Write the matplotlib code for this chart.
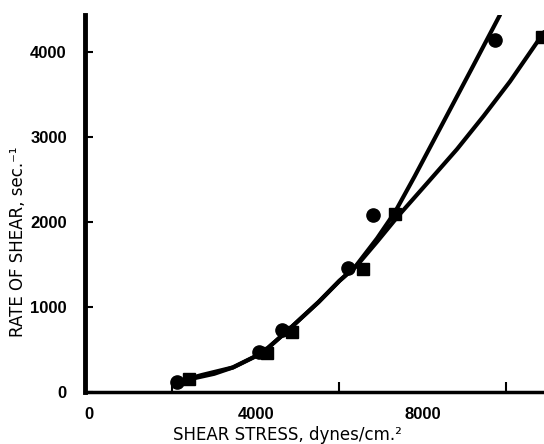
import matplotlib
matplotlib.use('Agg')
import matplotlib.pyplot as plt

# data points
circle_x = [2110, 4072, 4623, 6204, 6802, 9725]
circle_y = [120, 469, 727, 1465, 2087, 4150]
square_x = [2400, 4263, 4862, 6563, 7330, 10850]
square_y = [150, 457, 703, 1454, 2098, 4185]

# the two hand-drawn curves (points along each line)
curve_c_x = [2110, 2700, 3450, 4150, 4740, 5500, 6000, 6400, 6900, 7330, 7800, 8500, 9200, 9844]
curve_c_y = [120, 200, 290, 460, 715, 1060, 1310, 1490, 1810, 2120, 2540, 3190, 3840, 4443]
curve_s_x = [2400, 3000, 3450, 4150, 4740, 5500, 6000, 6400, 6900, 7400, 8100, 8814, 9450, 10084, 10900]
curve_s_y = [150, 215, 290, 460, 715, 1060, 1310, 1480, 1770, 2070, 2460, 2860, 3250, 3658, 4240]

xticks = [0, 4000, 8000]
yticks = [0, 1000, 2000, 3000, 4000]
xmarks = [2000, 4000, 6000, 8000, 10000]

tick_font = ['Liberation Sans', 'DejaVu Sans']

fig = plt.figure(figsize=(5.44, 4.44), dpi=100)
ax = fig.add_axes([0.156, 0.117, 0.844, 0.849])

ax.plot(curve_c_x, curve_c_y, color='black', lw=3, solid_capstyle='round')
ax.plot(curve_s_x, curve_s_y, color='black', lw=3, solid_capstyle='round')
ax.plot(circle_x, circle_y, 'o', color='black', ms=9.5)
ax.plot(square_x, square_y, 's', color='black', ms=8.5)

ax.set_xlim(-96, 10898)
ax.set_ylim(0, 4440)

for s in ['top', 'right']:
    ax.spines[s].set_visible(False)
ax.spines['left'].set_linewidth(3.5)
ax.spines['bottom'].set_linewidth(2.5)

ax.set_xticks(xticks)
ax.set_xticks(xmarks, minor=True)
ax.set_yticks(yticks)
ax.tick_params(axis='y', direction='in', length=6, width=1.5, pad=13)
ax.tick_params(axis='x', which='major', length=0, pad=11)
ax.tick_params(axis='x', which='minor', direction='in', length=7, width=1.5)
ax.set_xticklabels([str(v) for v in xticks], family=tick_font, fontsize=12, fontweight='bold')
ax.set_yticklabels([str(v) for v in yticks], family=tick_font, fontsize=12, fontweight='bold')

ax.set_xlabel('SHEAR STRESS, dynes/cm.\u00b2', fontsize=12)
ax.xaxis.set_label_coords(0.442, -0.127)
ax.xaxis.label.set_va('baseline')
ax.set_ylabel('RATE OF SHEAR, sec.\u207b\u00b9', fontsize=12)
ax.yaxis.set_label_coords(-0.146, 0.40)
ax.yaxis.label.set_va('center')

fig.savefig('out.png', dpi=100)
